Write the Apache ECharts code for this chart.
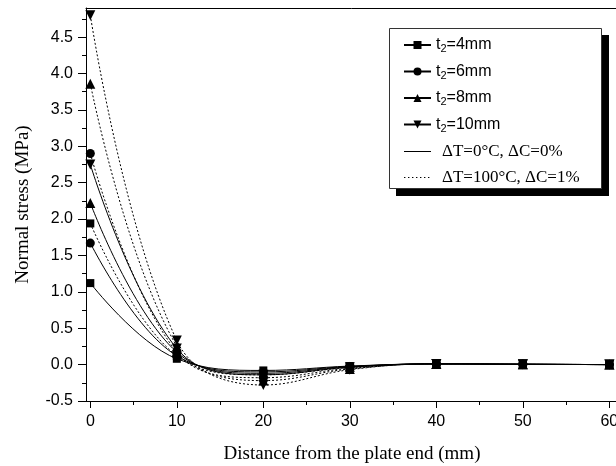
<!DOCTYPE html>
<html>
<head>
<meta charset="utf-8">
<script src="https://cdn.jsdelivr.net/npm/echarts@6/dist/echarts.min.js"></script>
<style>
  html, body { margin: 0; padding: 0; background: #fff; }
  #chart { width: 616px; height: 466px; }
</style>
</head>
<body>
<div id="chart"></div>
<script>
// distance from plate end (mm)
var distance = [0, 10, 20, 30, 40, 50, 60];

// normal stress (MPa), dT=0 / dC=0 (solid)
var t4Solid  = [1.12, 0.08, -0.08, -0.02, 0.01, 0.005, 0.0];
var t6Solid  = [1.67, 0.12, -0.10, -0.025, 0.01, 0.005, 0.0];
var t8Solid  = [2.22, 0.17, -0.12, -0.03, 0.01, 0.005, 0.0];
var t10Solid = [2.75, 0.22, -0.14, -0.035, 0.01, 0.005, 0.0];

// normal stress (MPa), dT=100 / dC=1% (dotted)
var t4Dot  = [1.94, 0.12, -0.14, -0.04, 0.01, 0.005, 0.0];
var t6Dot  = [2.90, 0.17, -0.18, -0.05, 0.01, 0.005, 0.0];
var t8Dot  = [3.86, 0.25, -0.22, -0.06, 0.01, 0.005, 0.0];
var t10Dot = [4.80, 0.33, -0.28, -0.07, 0.01, 0.005, 0.0];

var groupNames = ['t2=4mm', 't2=6mm', 't2=8mm', 't2=10mm'];
var condNames = ['ΔT=0°C, ΔC=0%', 'ΔT=100°C, ΔC=1%'];

var xTicks = [0, 10, 20, 30, 40, 50, 60];
var xMinorTicks = [5, 15, 25, 35, 45, 55];
var yTicks = [-0.5, 0, 0.5, 1, 1.5, 2, 2.5, 3, 3.5, 4, 4.5];
var yMinorTicks = [-0.25, 0.25, 0.75, 1.25, 1.75, 2.25, 2.75, 3.25, 3.75, 4.25, 4.75];

var SANS = 'Liberation Sans, Arial, sans-serif';
var SERIF = 'Liberation Serif, Times New Roman, serif';

var pairs = function(vals) {
    return distance.map(function(x, i) { return [x, vals[i]]; });
};

// symbol per thickness
var marks = [
    {symbol: 'rect', size: 8, rotate: 0},
    {symbol: 'circle', size: 9, rotate: 0},
    {symbol: 'triangle', size: 10, rotate: 0},
    {symbol: 'triangle', size: 10, rotate: 180}
];
var solidData = [t4Solid, t6Solid, t8Solid, t10Solid];
var dotData = [t4Dot, t6Dot, t8Dot, t10Dot];

var series = [];
for (var i = 0; i < 4; i++) {
    series.push({
        name: groupNames[i], type: 'line', smooth: 0.4,
        symbol: marks[i].symbol, symbolSize: marks[i].size, symbolRotate: marks[i].rotate,
        itemStyle: {color: '#000'},
        lineStyle: {color: '#000', width: 1, type: 'solid'},
        data: pairs(solidData[i])
    });
}
for (var j = 0; j < 4; j++) {
    series.push({
        name: groupNames[j], type: 'line', smooth: 0.4,
        symbol: marks[j].symbol, symbolSize: marks[j].size, symbolRotate: marks[j].rotate,
        itemStyle: {color: '#000'},
        lineStyle: {color: '#000', width: 1, type: [2, 2]},
        data: pairs(dotData[j])
    });
}
// line style only entries for the legend
series.push({name: condNames[0], type: 'line', symbol: 'none', data: [],
    lineStyle: {color: '#000', width: 1}, itemStyle: {color: '#000'}});
series.push({name: condNames[1], type: 'line', symbol: 'none', data: [],
    lineStyle: {color: '#000', width: 1, type: [2, 2]}, itemStyle: {color: '#000'}});

// legend icons: thin bar inside a 27x10 box (corner dots keep the box size)
var box = 'M0,0h0.01v0.01h-0.01z M27,10h0.01v0.01h-0.01z ';
var solidIcon = 'path://' + box + 'M0,4.5h27v1h-27z';
var dotIcon = 'path://' + box;
for (var k = 0; k < 27; k += 4) {
    dotIcon += 'M' + k + ',4.5h1.4v1h-1.4z ';
}

var myChart = echarts.init(document.getElementById('chart'), null, {renderer: 'canvas'});
var option = {
    animation: false,
    backgroundColor: '#fff',
    grid: {
        left: 86, right: -2, top: 8, bottom: 65,
        outerBoundsMode: 'none',
        containLabel: false,
        show: false
    },
    graphic: [
        {type: 'rect', shape: {x: 396, y: 35, width: 213, height: 161}, style: {fill: '#000'}, z: 1},
        {type: 'rect', shape: {x: 389.5, y: 28.5, width: 212, height: 160}, style: {fill: '#fff', stroke: '#333', lineWidth: 1}, z: 2}
    ],
    legend: {
        orient: 'vertical',
        left: 403, top: 37,
        padding: 0,
        itemGap: 9,
        itemWidth: 27, itemHeight: 10,
        z: 10,
        data: groupNames.concat([
            {name: condNames[0], icon: solidIcon},
            {name: condNames[1], icon: dotIcon}
        ]),
        formatter: function(name) {
            if (name.indexOf('t2') === 0) {
                return '{a|t}{b|2}{a|' + name.slice(2) + '}';
            }
            return '{c|' + name + '}';
        },
        textStyle: {
            color: '#000',
            rich: {
                a: {fontFamily: SANS, fontSize: 16, color: '#000'},
                b: {fontFamily: SANS, fontSize: 11, color: '#000', padding: [8, 0, 0, 0]},
                c: {fontFamily: SERIF, fontSize: 17, color: '#000', padding: [0, 0, 0, 6]}
            }
        }
    },
    xAxis: [{
        type: 'value', min: -0.5, max: 61,
        name: 'Distance from the plate end (mm)',
        nameLocation: 'middle', nameGap: 44,
        nameTextStyle: {fontFamily: SERIF, fontSize: 19, color: '#000'},
        axisLine: {onZero: false, lineStyle: {color: '#000', width: 1}},
        axisTick: {customValues: xTicks, length: 7, lineStyle: {color: '#000'}},
        axisLabel: {customValues: xTicks, fontFamily: SANS, fontSize: 16, color: '#000', margin: 13},
        splitLine: {show: false}
    }, {
        type: 'value', min: -0.5, max: 61, position: 'bottom',
        axisLine: {show: false, onZero: false},
        axisTick: {customValues: xMinorTicks, length: 4, lineStyle: {color: '#000'}},
        axisLabel: {show: false},
        splitLine: {show: false}
    }, {
        // top frame line
        type: 'value', min: -0.5, max: 61, position: 'top',
        axisLine: {show: true, onZero: false, lineStyle: {color: '#000', width: 1}},
        axisTick: {show: false},
        axisLabel: {show: false},
        splitLine: {show: false}
    }],
    yAxis: [{
        type: 'value', min: -0.5, max: 4.9,
        name: 'Normal stress (MPa)',
        nameLocation: 'middle', nameGap: 53,
        nameTextStyle: {fontFamily: SERIF, fontSize: 19, color: '#000'},
        axisLine: {show: true, onZero: false, lineStyle: {color: '#000', width: 1}},
        axisTick: {show: true, customValues: yTicks, length: 8, lineStyle: {color: '#000'}},
        axisLabel: {
            customValues: yTicks, fontFamily: SANS, fontSize: 16, color: '#000', margin: 13,
            formatter: function(v) { return v.toFixed(1); }
        },
        splitLine: {show: false}
    }, {
        type: 'value', min: -0.5, max: 4.9, position: 'left',
        axisLine: {show: false, onZero: false},
        axisTick: {show: true, customValues: yMinorTicks, length: 4, lineStyle: {color: '#000'}},
        axisLabel: {show: false},
        splitLine: {show: false}
    }],
    series: series
};
myChart.setOption(option);
</script>
</body>
</html>
